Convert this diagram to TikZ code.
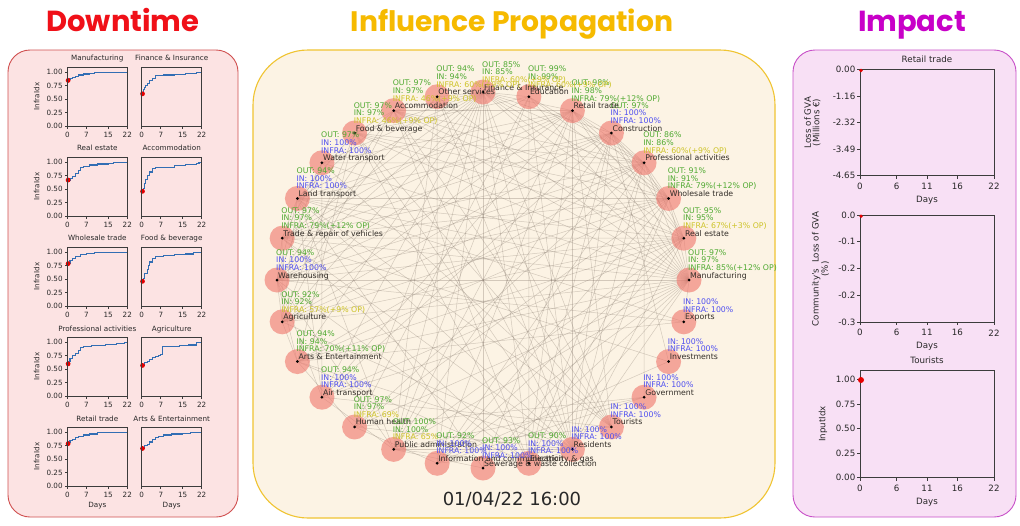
\documentclass[tikz,border=0pt]{standalone}
\usepackage{fontspec}
\setmainfont{DejaVu Sans}
\newfontfamily\titlefont{Poppins}
\usetikzlibrary{calc}

\definecolor{dtred}{RGB}{240,16,24}
\definecolor{dtfill}{RGB}{252,227,227}
\definecolor{dtedge}{RGB}{208,80,80}
\definecolor{ipyellow}{RGB}{246,186,0}
\definecolor{ipfill}{RGB}{252,243,228}
\definecolor{ipedge}{RGB}{240,196,50}
\definecolor{immag}{RGB}{200,0,200}
\definecolor{imfill}{RGB}{248,224,245}
\definecolor{imedge}{RGB}{200,80,200}
\definecolor{axgray}{RGB}{60,60,60}
\definecolor{txtgray}{RGB}{40,40,40}
\definecolor{curveblue}{RGB}{50,110,180}
\definecolor{mkred}{RGB}{230,0,0}
\definecolor{halored}{RGB}{240,120,110}
\definecolor{edgec}{RGB}{125,112,100}
\definecolor{okgreen}{RGB}{80,170,50}
\definecolor{fullblue}{RGB}{80,80,240}
\definecolor{lowyellow}{RGB}{205,195,40}
\definecolor{namegray}{RGB}{50,45,40}

\tikzset{
  axisline/.style={draw=axgray, line width=0.7pt},
  curveline/.style={draw=curveblue, line width=1.1pt},
  smalltxt/.style={font=\fontsize{7.2}{8}\selectfont, text=txtgray, inner sep=0pt},
  midtxt/.style={font=\fontsize{8.7}{9}\selectfont, text=txtgray, inner sep=0pt},
  link/.style={draw=edgec, line width=0.5pt, draw opacity=0.32},
  halo/.style={circle, fill=halored, fill opacity=0.62, minimum size=25pt, inner sep=0pt},
  hub/.style={circle, fill=black, minimum size=3pt, inner sep=0pt},
  lbl/.style={anchor=base west, inner sep=0pt, font=\fontsize{7.8}{8}\selectfont},
  nm/.style={lbl, text=namegray},
  gr/.style={lbl, text=okgreen},
  bl/.style={lbl, text=fullblue},
  yl/.style={lbl, text=lowyellow},
  ttl/.style={anchor=base, inner sep=0pt, font=\titlefont\bfseries\fontsize{29}{32}\selectfont},
}

% one recovery curve of the downtime panel
% #1 left x, #2 bottom y, #3 title, #4 curve, #5 start value, #6 1 = left column
\newcommand\dtplot[6]{%
  \begin{scope}[shift={(#1,#2)},x=2.7273pt,y=53.64pt]
    \draw[curveline] plot[const plot] coordinates {#4};
    \fill[mkred] (0.3,#5) circle[radius=2.4pt];
    \draw[axisline] (0,0) rectangle (22,1.1);
    \foreach \t in {0,7,15,22}{
      \draw[axisline] (\t,0) -- ++(0,-2.5pt);
      \node[smalltxt,anchor=center] at ([yshift=-9pt]\t,0) {\t};
    }
    \node[smalltxt,anchor=base] at ([yshift=6pt]11,1.1) {#3};
    \ifnum#6=1
      \foreach \v in {0.00,0.25,0.50,0.75,1.00}{
        \draw[axisline] (0,\v) -- ++(-2.5pt,0);
        \node[smalltxt,anchor=east] at ([xshift=-4.5pt]0,\v) {\v};
      }
      \node[smalltxt,rotate=90] at ([xshift=-30.5pt]0,0.55) {InfraIdx};
    \fi
  \end{scope}}

% one axes of the impact panel
% #1 bottom y, #2 height, #3 title, #4 y ticks as position/label
\newcommand\imaxes[4]{%
  \begin{scope}[shift={(860,#1)},x=6.0909pt,y=#2pt]
    \draw[axisline] (0,0) rectangle (22,1);
    \foreach \t in {0,6,11,16,22}{
      \draw[axisline] (\t,0) -- ++(0,-3pt);
      \node[midtxt,anchor=center] at ([yshift=-10.5pt]\t,0) {\t};
    }
    \foreach \p/\l in {#4}{
      \draw[axisline] (0,\p) -- ++(-3pt,0);
      \node[midtxt,anchor=east] at ([xshift=-4.5pt]0,\p) {\l};
    }
    \node[midtxt,anchor=center] at ([yshift=-24.3pt]11,0) {Days};
    \node[midtxt,anchor=base] at ([yshift=6.5pt]11,1) {#3};
  \end{scope}}

% labels of the network sectors
\newcommand\nname[2]{\node[nm] (name#1) at ($(p#1)+(1,-2)$) {#2};}
\newcommand\nline[4]{\node[#2] (info#1x#3) at ($(p#1)+(-1,{-2-7.6*#3})$) {#4};}

\begin{document}
\begin{tikzpicture}[x=1pt,y=-1pt]
\useasboundingbox (0,0) rectangle (1020,525);
\fill[white] (0,0) rectangle (1020,525);

% ---------- panels and headings ----------
\draw[rounded corners=22pt, fill=dtfill, draw=dtedge, line width=0.9pt] (8,50) rectangle (238,517);
\draw[rounded corners=55pt, fill=ipfill, draw=ipedge, line width=1.1pt] (253,50) rectangle (775,518);
\draw[rounded corners=22pt, fill=imfill, draw=imedge, line width=0.9pt] (793,50) rectangle (1016,517);

\node[ttl, text=dtred] (hdown) at (123,31) {Downtime};
\node[ttl, text=ipyellow, font=\titlefont\bfseries\fontsize{28.2}{32}\selectfont] (hinfl) at (512,31) {Influence Propagation};
\node[ttl, text=immag] (himp) at (912,31) {Impact};

% ---------- downtime curves ----------
\dtplot{67.3}{126}{Manufacturing}{(0,0.85)(0.5,0.87)(1,0.88)(2,0.9)(3,0.93)(4,0.95)(6,0.97)(8,0.98)(10,0.99)(13,1.0)(22,1.0)}{0.85}{1}
\dtplot{141.7}{126}{Finance \& Insurance}{(0,0.62)(0.5,0.68)(1,0.72)(1.5,0.75)(2,0.8)(3,0.85)(4,0.88)(5,0.94)(8,0.95)(12,0.96)(16,0.98)(20,0.99)(21.5,1.0)(22,1.0)}{0.6}{0}
\dtplot{67.3}{216}{Real estate}{(0,0.67)(1,0.7)(2,0.74)(3,0.8)(4,0.85)(5,0.9)(6,0.93)(8,0.95)(11,0.97)(15,0.98)(17,1.0)(22,1.0)}{0.67}{1}
\dtplot{141.7}{216}{Accommodation}{(0,0.46)(0.5,0.52)(1,0.6)(1.5,0.68)(2,0.75)(3,0.82)(4,0.88)(5,0.9)(9,0.91)(12,0.94)(16,0.96)(20,0.98)(21,1.0)(22,1.0)}{0.46}{0}
\dtplot{67.3}{306}{Wholesale trade}{(0,0.79)(1,0.84)(2,0.89)(3,0.93)(5,0.96)(7,0.98)(10,1.0)(22,1.0)}{0.79}{1}
\dtplot{141.7}{306}{Food \& beverage}{(0,0.46)(0.5,0.52)(1,0.6)(2,0.68)(2.5,0.75)(3,0.82)(4,0.88)(5,0.93)(8,0.94)(12,0.96)(16,0.97)(19,0.99)(20,1.0)(22,1.0)}{0.46}{0}
\dtplot{67.3}{396}{Professional activities}{(0,0.6)(0.5,0.65)(1,0.7)(2,0.75)(3,0.8)(4,0.85)(5,0.9)(6,0.93)(9,0.94)(14,0.96)(18,0.98)(21,1.0)(22,1.0)}{0.6}{1}
\dtplot{141.7}{396}{Agriculture}{(0,0.57)(1,0.63)(2,0.65)(3,0.68)(4,0.71)(5,0.73)(6,0.76)(7,0.78)(7.5,0.92)(10,0.93)(14,0.94)(17,0.95)(20,1.0)(22,1.0)}{0.57}{0}
\dtplot{67.3}{486}{Retail trade}{(0,0.79)(0.5,0.82)(1,0.84)(2,0.87)(3,0.9)(4,0.93)(6,0.95)(8,0.97)(11,0.99)(15,1.0)(22,1.0)}{0.79}{1}
\dtplot{141.7}{486}{Arts \& Entertainment}{(0,0.7)(1,0.75)(2,0.78)(3,0.82)(4,0.87)(5,0.9)(6,0.93)(8,0.95)(11,0.97)(15,0.98)(18,1.0)(22,1.0)}{0.7}{0}
\node[smalltxt] (daysl) at (97.3,506) {Days};
\node[smalltxt] (daysr) at (171.7,506) {Days};

% ---------- impact axes ----------
\imaxes{175.7}{106.4}{Retail trade}{1/0.00,0.75/-1.16,0.5/-2.32,0.25/-3.49,0/-4.65}
\imaxes{322.3}{107.3}{}{1/0.0,0.75/-0.1,0.5/-0.2,0.25/-0.2,0/-0.3}
\imaxes{477.7}{107.7}{Tourists}{0.9091/1.00,0.6818/0.75,0.4545/0.50,0.2273/0.25,0/0.00}
\fill[mkred] (861,70.5) circle[radius=1.8pt];
\fill[mkred] (861,216.2) circle[radius=1.8pt];
\fill[mkred] (861,380) circle[radius=3pt];
\node[midtxt, rotate=90, align=center, font=\fontsize{8.7}{8.5}\selectfont] (ylab1) at (812.5,122.5) {Loss of GVA\\(Millions €)};
\node[midtxt, rotate=90, align=center, font=\fontsize{8.7}{7.8}\selectfont] (ylab2) at (820.5,269) {Community's\ \ Loss of GVA\\(\%)};
\node[midtxt, rotate=90] (ylab3) at (823,424) {InputIdx};

% ---------- sector network ----------
\foreach \k in {0,...,27}{
  \coordinate (p\k) at ({483+206*cos(\k*360/28)},{280-188*sin(\k*360/28)});
}
\foreach \a/\b in {0/1,0/2,0/3,0/4,0/5,0/6,0/7,0/8,0/9,0/10,0/11,0/12,0/13,0/14,0/15,0/16,0/17,0/18,0/19,0/20,0/21,0/22,0/23,0/27,
  7/1,7/2,7/3,7/4,7/5,7/6,7/8,7/9,7/10,7/11,7/12,7/13,7/14,7/15,7/16,7/17,7/18,7/19,7/20,7/21,7/22,7/23,7/24,
  23/1,23/2,23/3,23/4,23/5,23/6,23/8,23/9,23/10,23/12,23/13,23/15,23/16,23/18,23/19,23/20,23/22,
  22/2,22/3,22/4,22/5,22/6,22/9,22/10,22/13,22/14,22/16,22/19,
  24/5,24/8,24/9,24/10,24/11,24/12,24/17,24/19,
  25/3,25/18,25/19,25/20,26/4,26/13,26/20,27/12,27/14,27/16,
  2/5,2/6,2/9,2/10,2/12,2/13,2/14,2/15,2/16,2/18,2/20,
  5/1,5/3,5/4,5/9,5/11,5/12,5/13,5/14,5/15,5/17,5/19,5/20,
  4/1,4/2,4/3,4/12,4/13,4/14,4/15,4/17,4/19,4/21,
  3/1,3/2,3/6,3/9,3/10,3/11,3/13,3/14,3/15,3/16,3/18,3/20,
  1/2,1/9,1/10,1/12,1/13,1/14,1/15,1/16,1/17,1/19,1/20,1/21,
  14/8,14/9,14/11,14/12,14/13,14/15,14/16,14/17,14/19,
  12/9,12/10,12/13,12/15,12/17,12/19,12/21,
  8/20,9/10,10/15,11/13,13/15,15/16,16/18,17/19,18/20,19/21,6/18,6/19,9/15,10/16,8/19,11/17,6/10,6/13}{
  \draw[link] (p\a) -- (p\b);
}
\foreach \k in {0,...,27}{
  \node[halo] (n\k) at (p\k) {};
  \node[hub] (d\k) at (p\k) {};
}

\nname{0}{Manufacturing}\nline{0}{gr}{1}{INFRA: 85\%(+12\% OP)}\nline{0}{gr}{2}{IN: 97\%}\nline{0}{gr}{3}{OUT: 97\%}
\nname{1}{Real estate}\nline{1}{yl}{1}{INFRA: 67\%(+3\% OP)}\nline{1}{gr}{2}{IN: 95\%}\nline{1}{gr}{3}{OUT: 95\%}
\nname{2}{Wholesale trade}\nline{2}{gr}{1}{INFRA: 79\%(+12\% OP)}\nline{2}{gr}{2}{IN: 91\%}\nline{2}{gr}{3}{OUT: 91\%}
\nname{3}{Professional activities}\nline{3}{yl}{1}{INFRA: 60\%(+9\% OP)}\nline{3}{gr}{2}{IN: 86\%}\nline{3}{gr}{3}{OUT: 86\%}
\nname{4}{Construction}\nline{4}{bl}{1}{INFRA: 100\%}\nline{4}{bl}{2}{IN: 100\%}\nline{4}{gr}{3}{OUT: 97\%}
\nname{5}{Retail trade}\nline{5}{gr}{1}{INFRA: 79\%(+12\% OP)}\nline{5}{gr}{2}{IN: 98\%}\nline{5}{gr}{3}{OUT: 98\%}
\nname{6}{Education}\nline{6}{yl}{1}{INFRA: 60\%(+9\% OP)}\nline{6}{gr}{2}{IN: 99\%}\nline{6}{gr}{3}{OUT: 99\%}
\nname{7}{Finance \& Insurance}\nline{7}{yl}{1}{INFRA: 60\%(+9\% OP)}\nline{7}{gr}{2}{IN: 85\%}\nline{7}{gr}{3}{OUT: 85\%}
\nname{8}{Other services}\nline{8}{yl}{1}{INFRA: 60\%(+9\% OP)}\nline{8}{gr}{2}{IN: 94\%}\nline{8}{gr}{3}{OUT: 94\%}
\nname{9}{Accommodation}\nline{9}{yl}{1}{INFRA: 46\%(+9\% OP)}\nline{9}{gr}{2}{IN: 97\%}\nline{9}{gr}{3}{OUT: 97\%}
\nname{10}{Food \& beverage}\nline{10}{yl}{1}{INFRA: 46\%(+9\% OP)}\nline{10}{gr}{2}{IN: 97\%}\nline{10}{gr}{3}{OUT: 97\%}
\nname{11}{Water transport}\nline{11}{bl}{1}{INFRA: 100\%}\nline{11}{bl}{2}{IN: 100\%}\nline{11}{gr}{3}{OUT: 97\%}
\nname{12}{Land transport}\nline{12}{bl}{1}{INFRA: 100\%}\nline{12}{bl}{2}{IN: 100\%}\nline{12}{gr}{3}{OUT: 94\%}
\nname{13}{Trade \& repair of vehicles}\nline{13}{gr}{1}{INFRA: 79\%(+12\% OP)}\nline{13}{gr}{2}{IN: 97\%}\nline{13}{gr}{3}{OUT: 97\%}
\nname{14}{Warehousing}\nline{14}{bl}{1}{INFRA: 100\%}\nline{14}{bl}{2}{IN: 100\%}\nline{14}{gr}{3}{OUT: 94\%}
\nname{15}{Agriculture}\nline{15}{yl}{1}{INFRA: 57\%(+9\% OP)}\nline{15}{gr}{2}{IN: 92\%}\nline{15}{gr}{3}{OUT: 92\%}
\nname{16}{Arts \& Entertainment}\nline{16}{gr}{1}{INFRA: 70\%(+11\% OP)}\nline{16}{gr}{2}{IN: 94\%}\nline{16}{gr}{3}{OUT: 94\%}
\nname{17}{Air transport}\nline{17}{bl}{1}{INFRA: 100\%}\nline{17}{bl}{2}{IN: 100\%}\nline{17}{gr}{3}{OUT: 94\%}
\nname{18}{Human health}\nline{18}{yl}{1}{INFRA: 69\%}\nline{18}{gr}{2}{IN: 97\%}\nline{18}{gr}{3}{OUT: 97\%}
\nname{19}{Public administration}\nline{19}{yl}{1}{INFRA: 65\%}\nline{19}{gr}{2}{IN: 100\%}\nline{19}{gr}{3}{OUT: 100\%}
\nname{20}{Information and communication}\nline{20}{bl}{1}{INFRA: 100\%}\nline{20}{bl}{2}{IN: 100\%}\nline{20}{gr}{3}{OUT: 92\%}
\nname{21}{Sewerage \& waste collection}\nline{21}{bl}{1}{INFRA: 100\%}\nline{21}{bl}{2}{IN: 100\%}\nline{21}{gr}{3}{OUT: 93\%}
\nname{22}{Electricity \& gas}\nline{22}{bl}{1}{INFRA: 100\%}\nline{22}{bl}{2}{IN: 100\%}\nline{22}{gr}{3}{OUT: 90\%}
\nname{23}{Residents}\nline{23}{bl}{1}{INFRA: 100\%}\nline{23}{bl}{2}{IN: 100\%}
\nname{24}{Tourists}\nline{24}{bl}{1}{INFRA: 100\%}\nline{24}{bl}{2}{IN: 100\%}
\nname{25}{Government}\nline{25}{bl}{1}{INFRA: 100\%}\nline{25}{bl}{2}{IN: 100\%}
\nname{26}{Investments}\nline{26}{bl}{1}{INFRA: 100\%}\nline{26}{bl}{2}{IN: 100\%}
\nname{27}{Exports}\nline{27}{bl}{1}{INFRA: 100\%}\nline{27}{bl}{2}{IN: 100\%}

\node[inner sep=0pt, text=txtgray, font=\fontsize{18}{20}\selectfont] (stamp) at (512,499.5) {01/04/22 16:00};
\end{tikzpicture}
\end{document}
